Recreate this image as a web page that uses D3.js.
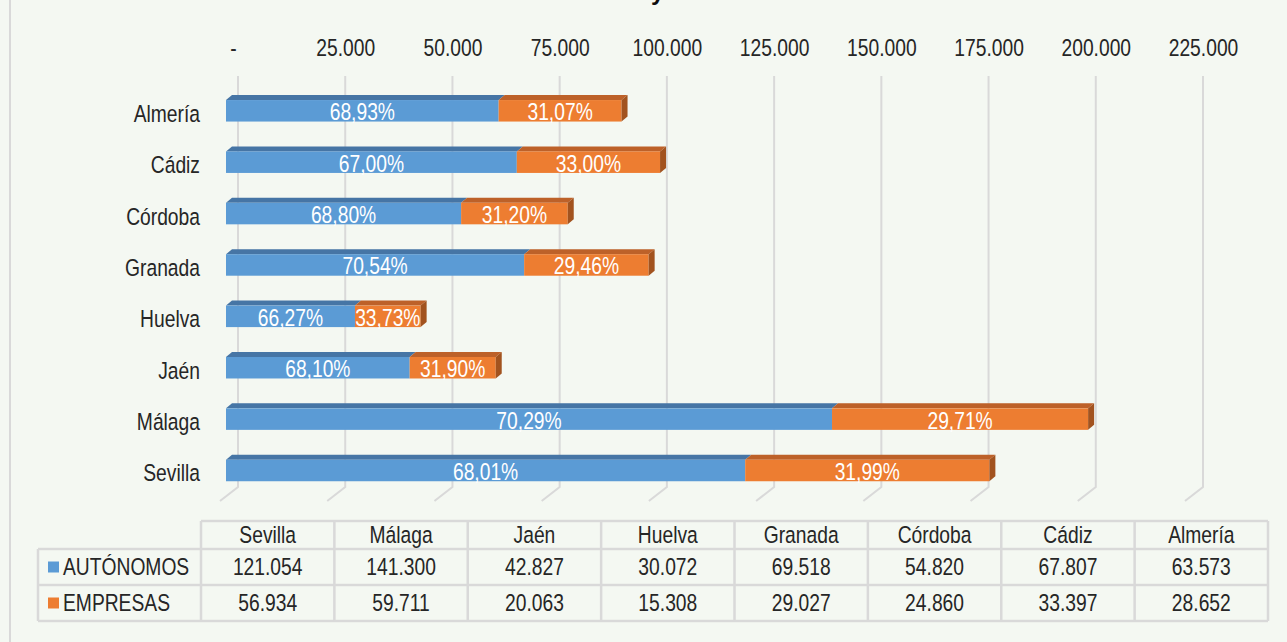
<!DOCTYPE html>
<html>
<head>
<meta charset="utf-8">
<script src="https://cdn.jsdelivr.net/npm/d3@7"></script>
<style>
 html, body { margin: 0; padding: 0; background: #f4f8f2; }
 svg { display: block; font-family: "Liberation Sans Narrow", "Liberation Sans", Arial, sans-serif; }
</style>
</head>
<body>
<svg id="chart"></svg>
<script>
// provinces, top to bottom as in the bars
const provincias = ["Almería", "Cádiz", "Córdoba", "Granada", "Huelva", "Jaén", "Málaga", "Sevilla"]
const autonomos = [63573, 67807, 54820, 69518, 30072, 42827, 141300, 121054]
const empresas = [28652, 33397, 24860, 29027, 15308, 20063, 59711, 56934]
const xTicks = [0, 25000, 50000, 75000, 100000, 125000, 150000, 175000, 200000, 225000]
const series = ["AUTÓNOMOS", "EMPRESAS"]

 width = 1287
 height = 642

 var es = d3.formatLocale({decimal: ",", thousands: ".", grouping: [3], currency: ["", "€"]})
 var fmtNum = es.format(",.0f")
 var fmtPct = es.format(".2%")

 // no Arial Narrow here, so squeeze the regular face
 var narrow = "scale(0.82,1)"
 var fontSize = 23.5

 var colors = {
      blue: "#5b9bd5", blueTop: "#4675a5",
      orange: "#ed7d31", orangeTop: "#bd6129", orangeSide: "#a2531f",
      grid: "#d9d9d9", text: "#262626"
 }

 var data = provincias.map(function(p, i){
      return {name: p, a: autonomos[i], e: empresas[i], total: autonomos[i] + empresas[i]}
 })

 var svg = d3.select("#chart").attr("width", width).attr("height", height)

 svg.append("rect").attr("width", width).attr("height", height).attr("fill", "#f4f8f2")
 // outer frame line on the left
 svg.append("line").attr("x1", 10).attr("x2", 10).attr("y1", 0).attr("y2", height)
      .attr("stroke", colors.grid).attr("stroke-width", 2)

 // title, mostly cut off above the picture
 svg.append("text").attr("x", 651).attr("y", 0)
      .attr("font-weight", "bold").attr("font-size", 24).attr("fill", "#0d0d0d")
      .text("y")

 // 3d depth
 var depthX = 6, depthY = -5, floorX = -18, floorY = 14, frontShift = -12

 var x = d3.scaleLinear().domain([0, 225000]).range([238, 1203])
 var y = d3.scalePoint().domain(provincias).range([110.8, 470.5])
 var barH = 21.5

 var gridTop = 76, gridBottom = 487

 // gridlines on back wall plus floor
 var grid = svg.append("g").attr("class", "grid")
 grid.selectAll("path").data(xTicks).enter().append("path")
      .attr("d", function(d){
           return "M" + x(d) + "," + gridTop + "V" + gridBottom +
                "l" + floorX + "," + floorY
      })
      .attr("fill", "none").attr("stroke", colors.grid).attr("stroke-width", 2)

 // axis labels on top
 var xAxis = d3.axisTop(x).tickValues(xTicks).tickSize(0).tickPadding(0)
      .tickFormat(function(d){ return d === 0 ? "-" : fmtNum(d) })
 var gx = svg.append("g").attr("transform", "translate(0,56)").call(xAxis)
 gx.select(".domain").remove()
 gx.selectAll("text").attr("font-size", fontSize).attr("fill", colors.text)
      .attr("font-family", null).attr("dy", 0).attr("transform", narrow)
 gx.selectAll(".tick").filter(function(d){ return d === 0 })
      .select("text").attr("dx", -6)

 // category labels
 var yAxis = d3.axisLeft(y).tickSize(0).tickPadding(0)
 var gy = svg.append("g").attr("transform", "translate(200,2)").call(yAxis)
 gy.select(".domain").remove()
 gy.selectAll("text").attr("font-size", fontSize).attr("fill", colors.text)
      .attr("font-family", null).attr("dy", "0.36em").attr("transform", narrow)

 function fx(v){ return x(v) + frontShift }

 function label(parent, txt, cx, cy, anchor, fill){
      parent.append("text")
           .attr("transform", "translate(" + cx + "," + cy + ") " + narrow)
           .attr("dy", "0.36em").attr("text-anchor", anchor || "middle")
           .attr("font-size", fontSize).attr("fill", fill || colors.text)
           .text(txt)
 }

 var bars = svg.append("g").attr("class", "bars")
      .selectAll("g").data(data).enter().append("g")

 bars.each(function(d){
      var g = d3.select(this)
      var y0 = y(d.name) - barH / 2, y1 = y0 + barH
      var segs = [
           {x0: fx(0), x1: fx(d.a), fill: colors.blue, top: colors.blueTop, label: fmtPct(d.a / d.total)},
           {x0: fx(d.a), x1: fx(d.total), fill: colors.orange, top: colors.orangeTop, label: fmtPct(d.e / d.total)}
      ]
      segs.forEach(function(s){
           g.append("path")
                .attr("d", "M" + s.x0 + "," + y0 + "l" + depthX + "," + depthY +
                     "H" + (s.x1 + depthX) + "L" + s.x1 + "," + y0 + "Z")
                .attr("fill", s.top)
           g.append("rect").attr("x", s.x0).attr("y", y0)
                .attr("width", s.x1 - s.x0).attr("height", barH)
                .attr("fill", s.fill)
      })
      var last = segs[1]
      g.append("path")
           .attr("d", "M" + last.x1 + "," + y0 + "l" + depthX + "," + depthY +
                "v" + barH + "L" + last.x1 + "," + y1 + "Z")
           .attr("fill", colors.orangeSide)
      segs.forEach(function(s){
           label(g, s.label, (s.x0 + s.x1) / 2, y(d.name) + 1, "middle", "#ffffff")
      })
 })

 // data table below
 var cols = provincias.slice().reverse()
 var tx = d3.scaleBand().domain(cols).range([201, 1268])
 var rowsY = [521, 549, 585, 621]
 var tableLeft = 38
 var table = svg.append("g").attr("class", "table")

 var lines = []
 lines.push([201, rowsY[0], 1268, rowsY[0]])
 lines.push([tableLeft, rowsY[1], 1268, rowsY[1]])
 lines.push([tableLeft, rowsY[2], 1268, rowsY[2]])
 lines.push([tableLeft, rowsY[3], 1268, rowsY[3]])
 lines.push([tableLeft, rowsY[1], tableLeft, rowsY[3]])
 cols.forEach(function(c){ lines.push([tx(c), rowsY[0], tx(c), rowsY[3]]) })
 lines.push([1268, rowsY[0], 1268, rowsY[3]])

 table.selectAll("line").data(lines).enter().append("line")
      .attr("x1", function(d){ return d[0] }).attr("y1", function(d){ return d[1] })
      .attr("x2", function(d){ return d[2] }).attr("y2", function(d){ return d[3] })
      .attr("stroke", colors.grid).attr("stroke-width", 2.5)

 var byName = {}
 data.forEach(function(d){ byName[d.name] = d })

 cols.forEach(function(c){
      var cx = tx(c) + tx.bandwidth() / 2
      label(table, c, cx, (rowsY[0] + rowsY[1]) / 2)
      label(table, fmtNum(byName[c].a), cx, (rowsY[1] + rowsY[2]) / 2)
      label(table, fmtNum(byName[c].e), cx, (rowsY[2] + rowsY[3]) / 2)
 })

 // legend keys inside the table
 var keyColors = [colors.blue, colors.orange]
 series.forEach(function(s, i){
      var cy = (rowsY[i + 1] + rowsY[i + 2]) / 2
      table.append("rect").attr("x", 48).attr("y", cy - 5.5)
           .attr("width", 11).attr("height", 11).attr("fill", keyColors[i])
      label(table, s, 63, cy, "start")
 })
</script>
</body>
</html>
